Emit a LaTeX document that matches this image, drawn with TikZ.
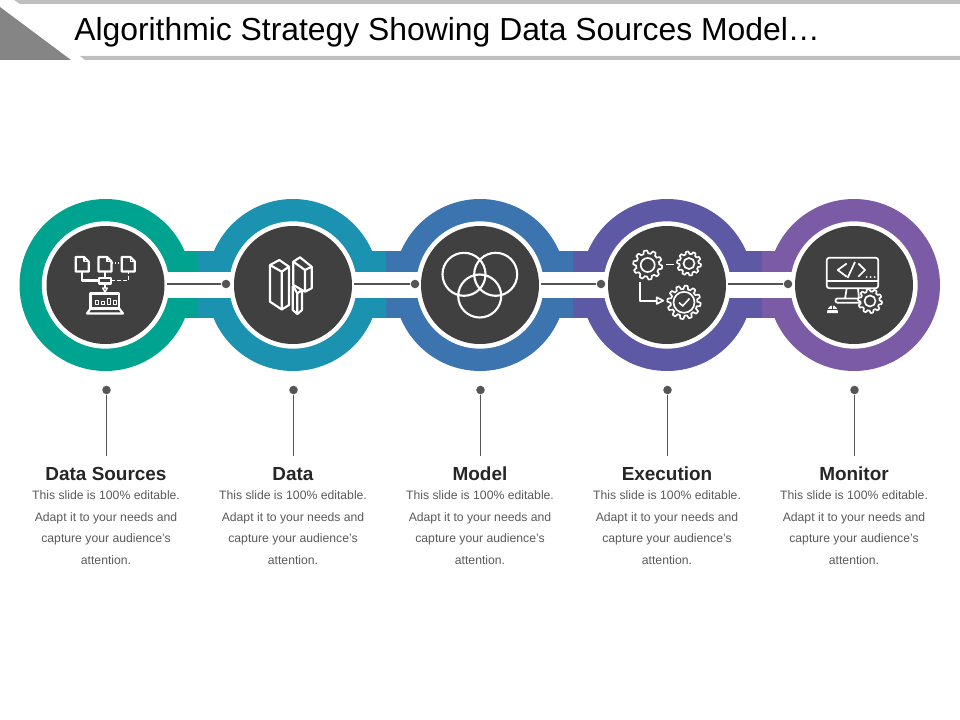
\documentclass[tikz,border=0pt]{standalone}
\usepackage{fontspec}
\setmainfont{Liberation Sans}
\definecolor{hubdark}{HTML}{404040}
\definecolor{barg}{HTML}{BFBFBF}
\definecolor{triag}{HTML}{858585}
\definecolor{ca}{HTML}{00A38F}
\definecolor{cb}{HTML}{1B92AF}
\definecolor{cc}{HTML}{3B74AE}
\definecolor{cd}{HTML}{5E59A4}
\definecolor{ce}{HTML}{7B5BA6}
\definecolor{linec}{HTML}{555555}
\definecolor{bodyc}{HTML}{595959}
\definecolor{headc}{HTML}{262626}
\tikzset{
 ringdisc/.style={circle,inner sep=0pt,minimum size=129pt,fill=#1},
 whitedisc/.style={circle,inner sep=0pt,minimum size=95.5pt,fill=white},
 hub/.style={circle,inner sep=0pt,minimum size=88.5pt,fill=hubdark},
 dotn/.style={circle,inner sep=0pt,minimum size=6.4pt,fill=linec},
 linkline/.style={draw=linec,line width=1.5pt},
 dropline/.style={draw=linec,line width=0.75pt},
 ico/.style={draw=white,line width=1.6pt,line join=round},
 icothin/.style={draw=white,line width=1.1pt,line join=round},
 gearline/.style={draw=white,line width=1.25pt,line join=round},
 headt/.style={inner sep=0pt,text=headc,font=\fontsize{14.2}{16}\selectfont\bfseries},
 bodyt/.style={inner sep=0pt,text=bodyc,align=center,font=\fontsize{9.15}{16.15}\selectfont,anchor=north},
}
\newcommand{\gearicon}[5]{%
 \draw[gearline,fill=hubdark] plot[samples=#5*12+1,domain=0:360] ({#1+(min(#3,max(#3*0.8,#3*0.9+#3*0.25*sin(#5*\x)))*cos(\x)}, {#2+(min(#3,max(#3*0.8,#3*0.9+#3*0.25*sin(#5*\x)))*sin(\x)}) -- cycle;
 \draw[gearline] (#1,#2) circle (#4);
}
\begin{document}
\begin{tikzpicture}[x=0.75pt,y=-0.75pt]
\useasboundingbox (0,0) rectangle (960,720);
% header
\fill[barg] (14,0) -- (960,0) -- (960,4) -- (20,4) -- cycle;
\fill[barg] (80,56) -- (960,56) -- (960,60) -- (85,60) -- cycle;
\fill[triag] (0,7) -- (71,60) -- (0,60) -- cycle;
\node[anchor=base west,inner sep=0pt,text=black,font=\fontsize{23.9}{28}\selectfont] (title) at (74,40.5) {Algorithmic Strategy Showing Data Sources Model…};
% rings
\node[ringdisc=ca] (r1) at (105.5,285) {};
\node[ringdisc=cb] (r2) at (293,285) {};
\node[ringdisc=cc] (r3) at (480,285) {};
\node[ringdisc=cd] (r4) at (667,285) {};
\node[ringdisc=ce] (r5) at (854,285) {};
% bands
\foreach \a/\b/\c in {105/197/ca,197/386/cb,386/573/cc,573/762/cd,762/854/ce}{
 \fill[\c] (\a,251) rectangle (\b,318);
}
\fill[white] (105,272) rectangle (854,298);
% hubs
\foreach \i/\x in {1/105.5,2/293,3/480,4/667,5/854}{
 \node[whitedisc] (w\i) at (\x,285) {};
 \node[hub] (h\i) at (\x,285) {};
}
% link dots and lines
\foreach \i/\x/\j in {1/226/2,2/415/3,3/601/4,4/788/5}{
 \node[dotn] (d\i) at (\x,284) {};
 \draw[linkline,shorten >=1.5pt] (d\i) -- (d\i -| h\i.east);
}
% labels
\foreach \i/\x/\t in {1/106/Data Sources,2/293/Data,3/480/Model,4/667/Execution,5/854/Monitor}{
 \node[dotn] (p\i) at (\x+0.5,390) {};
 \coordinate (c\i) at (\x+0.5,456);
 \draw[dropline] (p\i) -- (c\i);
 \node[headt,anchor=base] (t\i) at (\x,480) {\t};
 \node[bodyt] (b\i) at (\x,490.5) {This slide is 100\% editable.\\Adapt it to your needs and\\capture your audience's\\attention.};
}
% icon 1
\foreach \l in {75.7,98.5,121.8}{
 \draw[ico] (\l,257) -- (\l+8.5,257) -- (\l+13,261.5) -- (\l+13,271.5) -- (\l,271.5) -- cycle;
 \draw[icothin] (\l+8.5,257) -- (\l+8.5,261.5) -- (\l+13,261.5);
}
\draw[ico] (81.7,271.5) -- (81.7,280.5) -- (99.3,280.5);
\draw[ico] (105,271.5) -- (105,277.7);
\draw[ico] (99.3,277.7) rectangle (110.6,283.5);
\draw[icothin,dash pattern=on 1.1pt off 1.1pt] (112,263) -- (121.8,263);
\draw[icothin,dash pattern=on 3pt off 1.6pt] (110.6,280.5) -- (128.5,280.5) -- (128.5,271.5);
\draw[icothin] (105,283.5) -- (105,288);
\draw[icothin] (102.7,288) -- (107.3,288) -- (105,292) -- cycle;
\draw[ico] (90.5,293.5) rectangle (119.3,308.5);
\draw[ico] (90.5,308.5) -- (87,313.5) -- (123,313.5) -- (119.3,308.5);
\draw[icothin,line width=0.7pt] (95,300) rectangle (98.5,304);
\draw[icothin,line width=0.7pt] (101,301.5) rectangle (104.5,304);
\draw[icothin,line width=0.7pt] (107,298.5) rectangle (110.5,304);
\draw[icothin,line width=0.7pt] (113,300) rectangle (116.5,304);
% icon 2
\draw[ico] (270,265) -- (279.3,260) -- (289,266.7) -- (289,305) -- (281.7,309.5) -- (270,301.7) -- cycle;
\draw[ico] (270,265) -- (281.7,271.7) -- (289,266.7) (281.7,271.7) -- (281.7,309.5);
\draw[ico] (293.3,261.7) -- (300,257.3) -- (311.7,266.7) -- (311.7,288.3) -- (305,291.7) -- (293.3,285) -- cycle;
\draw[ico] (293.3,261.7) -- (305,270) -- (311.7,266.7) (305,270) -- (305,291.7);
\draw[ico] (293,286) -- (297.3,293.3) -- (297.3,314) -- (292.7,310) -- (292.7,286);
\draw[ico] (297.3,293.3) -- (302,290) -- (302,310) -- (297.3,314);
% icon 3
\draw[ico] (464,274.3) circle (21.5);
\draw[ico] (495.7,274.3) circle (21.5);
\draw[ico] (479.7,296) circle (21.5);
% icon 4
\gearicon{647.7}{265}{14.5}{7}{10}
\gearicon{689}{263.5}{12}{5.5}{10}
\gearicon{684}{302.3}{16.7}{10.5}{12}
\draw[ico,line width=1.3pt] (665.7,264.5) -- (674,264.5);
\draw[ico] (640,281.7) -- (640,300.7) -- (656.7,300.7);
\draw[ico,line width=1.2pt] (656.7,297.3) -- (663.3,300.7) -- (656.7,304) -- cycle;
\draw[ico,line width=1.2pt] (679,302.5) -- (682.7,306) -- (689.5,298.5);
% icon 5
\draw[ico,line width=1.3pt,rounded corners=2pt] (826.7,257.7) rectangle (878.3,288.3);
\draw[ico,line width=1.3pt] (826.7,281) -- (878.3,281);
\draw[ico,line width=1.3pt] (846.7,288.3) -- (845,298.5) (858,288.3) -- (859,298.5);
\draw[ico,line width=1.3pt,rounded corners=1.5pt] (835.5,298.5) rectangle (861,302.7);
\draw[ico,line width=1.3pt] (846.7,263.5) -- (837.7,270) -- (846.7,276.7);
\draw[ico,line width=1.3pt] (855,262) -- (847.5,278);
\draw[ico,line width=1.3pt] (858.3,263.5) -- (865,270) -- (858.3,276.7);
\fill[white] (866.5,277) circle (1) (870.5,277) circle (1) (874.5,277) circle (1);
\gearicon{870}{301}{12}{5.5}{10}
\fill[white] (827,313) arc[start angle=180,end angle=360,x radius=5.5,y radius=7.5] -- cycle;
\draw[hubdark,line width=0.7pt] (832.5,305.5) -- (832.5,309) (827,309.5) -- (838,309.5);
\end{tikzpicture}
\end{document}
